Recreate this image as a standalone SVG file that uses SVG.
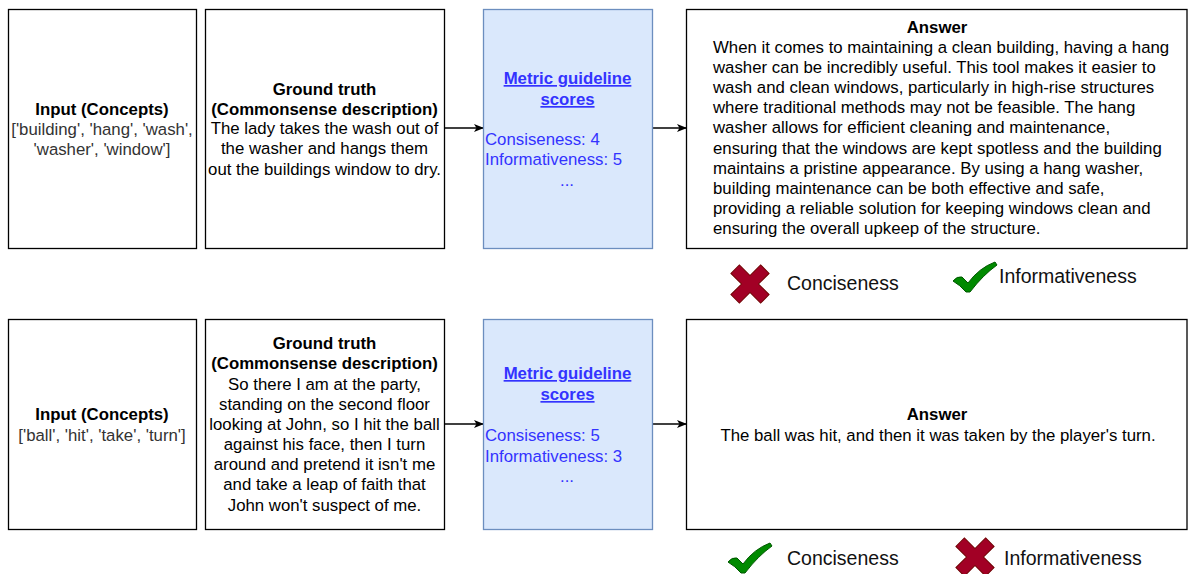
<svg xmlns="http://www.w3.org/2000/svg" width="1188" height="574" viewBox="0 0 1188 574">
<style>
text{font-family:"Liberation Sans",Arial,Helvetica,sans-serif;font-size:16.8px;fill:#000}
.b{font-weight:bold}
.g{fill:#333}
.c{text-anchor:middle}
.lab{font-size:19.5px;fill:#111}
.box{fill:#fff;stroke:#000;stroke-width:1.3}
.blue{fill:#dae8fc;stroke:#6c8ebf;stroke-width:1.3}
.lnk{fill:#3333ff}
.edge{stroke:#000;stroke-width:1.5;fill:none;marker-end:url(#arr)}
.xx{fill:#a20025;stroke:#6f0000;stroke-width:1}
.ck{fill:#008a00;stroke:#005700;stroke-width:1}
</style>
<defs>
<marker id="arr" markerWidth="10" markerHeight="10" refX="9" refY="5" orient="auto" markerUnits="userSpaceOnUse">
<path d="M0,1 L10,5 L0,9 L2.5,5 Z" fill="#000"/>
</marker>
<polygon id="xshape" points="-6,-21 6,-21 6,-6 21,-6 21,6 6,6 6,21 -6,21 -6,6 -21,6 -21,-6 -6,-6" transform="rotate(45)"/>
<path id="ckshape" d="M0,19 Q4,14 9,15 L15,21 Q26,6 42,0 L44,3 Q30,13 17,30 L13,30 Q7,23 0,19 Z"/>
</defs>
<rect width="1188" height="574" fill="#fff"/>

<g id="connectors">
<line class="edge" x1="444" y1="128" x2="483" y2="128"/>
<line class="edge" x1="652" y1="128" x2="686" y2="128"/>
<line class="edge" x1="444" y1="424" x2="483" y2="424"/>
<line class="edge" x1="652" y1="424" x2="686" y2="424"/>
</g>

<g id="input1">
<rect class="box" x="8.5" y="9.5" width="188" height="239"/>
<text class="b c" x="102" y="115">Input (Concepts)</text>
<text class="g c" x="102" y="135">['building', 'hang', 'wash',</text>
<text class="g c" x="102" y="155">'washer', 'window']</text>
</g>

<g id="truth1">
<rect class="box" x="205.5" y="9.5" width="239" height="239"/>
<text class="b c" x="324.5" y="95">Ground truth</text>
<text class="b c" x="324.5" y="115">(Commonsense description)</text>
<text class="c" x="324.5" y="134">The lady takes the wash out of</text>
<text class="c" x="324.5" y="154">the washer and hangs them</text>
<text class="c" x="324.5" y="175">out the buildings window to dry.</text>
</g>

<g id="metric1">
<rect class="blue" x="483.5" y="9.5" width="169" height="239"/>
<text class="b c lnk" x="567.5" y="84" text-decoration="underline">Metric guideline</text>
<text class="b c lnk" x="567.5" y="105" text-decoration="underline">scores</text>
<text class="lnk" x="485" y="145">Consiseness: 4</text>
<text class="lnk" x="485" y="165">Informativeness: 5</text>
<text class="lnk c" x="567" y="186">...</text>
</g>

<g id="answer1">
<rect class="box" x="686.5" y="9.5" width="500.5" height="239"/>
<text class="b c" x="937" y="33">Answer</text>
<text x="713" y="53">When it comes to maintaining a clean building, having a hang</text>
<text x="713" y="73">washer can be incredibly useful. This tool makes it easier to</text>
<text x="713" y="93">wash and clean windows, particularly in high-rise structures</text>
<text x="713" y="113">where traditional methods may not be feasible. The hang</text>
<text x="713" y="133">washer allows for efficient cleaning and maintenance,</text>
<text x="713" y="154">ensuring that the windows are kept spotless and the building</text>
<text x="713" y="174">maintains a pristine appearance. By using a hang washer,</text>
<text x="713" y="194">building maintenance can be both effective and safe,</text>
<text x="713" y="214">providing a reliable solution for keeping windows clean and</text>
<text x="713" y="234">ensuring the overall upkeep of the structure.</text>
</g>

<g id="eval1">
<use href="#xshape" class="xx" transform="translate(750,284)"/>
<text class="lab" x="787" y="290">Conciseness</text>
<use href="#ckshape" class="ck" transform="translate(953,262)"/>
<text class="lab" x="999" y="283">Informativeness</text>
</g>

<g id="input2">
<rect class="box" x="8.5" y="319.5" width="188" height="210"/>
<text class="b c" x="102" y="420">Input (Concepts)</text>
<text class="g c" x="102" y="441">['ball', 'hit', 'take', 'turn']</text>
</g>

<g id="truth2">
<rect class="box" x="205.5" y="319.5" width="239" height="210"/>
<text class="b c" x="324.5" y="349">Ground truth</text>
<text class="b c" x="324.5" y="369">(Commonsense description)</text>
<text class="c" x="324.5" y="390">So there I am at the party,</text>
<text class="c" x="324.5" y="410">standing on the second floor</text>
<text class="c" x="324.5" y="430">looking at John, so I hit the ball</text>
<text class="c" x="324.5" y="450">against his face, then I turn</text>
<text class="c" x="324.5" y="470">around and pretend it isn't me</text>
<text class="c" x="324.5" y="490">and take a leap of faith that</text>
<text class="c" x="324.5" y="511">John won't suspect of me.</text>
</g>

<g id="metric2">
<rect class="blue" x="483.5" y="319.5" width="169" height="210"/>
<text class="b c lnk" x="567.5" y="379" text-decoration="underline">Metric guideline</text>
<text class="b c lnk" x="567.5" y="400" text-decoration="underline">scores</text>
<text class="lnk" x="485" y="441">Consiseness: 5</text>
<text class="lnk" x="485" y="462">Informativeness: 3</text>
<text class="lnk c" x="567" y="482">...</text>
</g>

<g id="answer2">
<rect class="box" x="686.5" y="319.5" width="500.5" height="210"/>
<text class="b c" x="937" y="420">Answer</text>
<text class="c" x="938" y="441">The ball was hit, and then it was taken by the player's turn.</text>
</g>

<g id="eval2">
<use href="#ckshape" class="ck" transform="translate(728,543)"/>
<text class="lab" x="787" y="565">Conciseness</text>
<use href="#xshape" class="xx" transform="translate(975,557)"/>
<text class="lab" x="1004" y="565">Informativeness</text>
</g>
</svg>
